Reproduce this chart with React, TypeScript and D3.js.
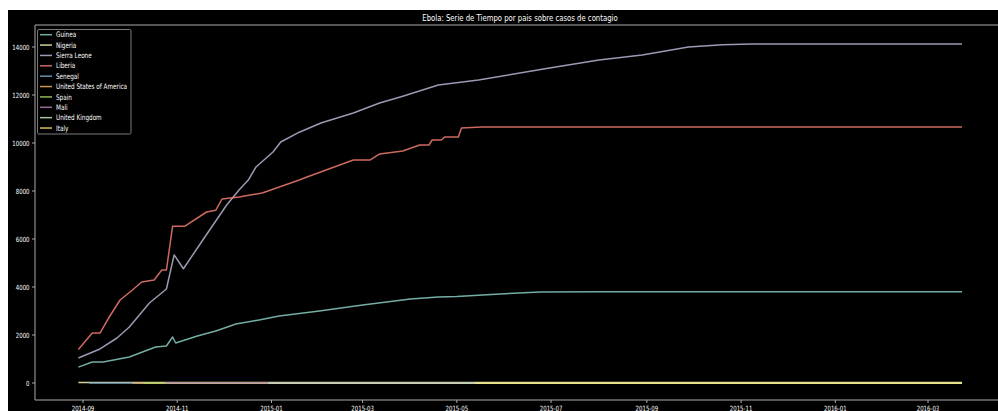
import React from "react";
import * as d3 from "d3";

type P = [string, number];

const countries = ["Guinea", "Nigeria", "Sierra Leone", "Liberia", "Senegal", "United States of America", "Spain", "Mali", "United Kingdom", "Italy"];
const colors = ["#8dd3c7", "#feffb3", "#bfbbd9", "#fa8174", "#81b1d2", "#fdb462", "#b3de69", "#bc82bd", "#ccebc4", "#ffed6f"];

const guinea: P[] = [
  ["2014-08-29", 660], ["2014-09-07", 875], ["2014-09-14", 875], ["2014-10-01", 1083], ["2014-10-18", 1500],
  ["2014-10-25", 1540], ["2014-10-29", 1917], ["2014-10-31", 1667], ["2014-11-14", 1958], ["2014-11-26", 2167],
  ["2014-12-09", 2458], ["2014-12-24", 2625], ["2015-01-06", 2792], ["2015-02-01", 3000], ["2015-03-01", 3250],
  ["2015-04-01", 3500], ["2015-04-19", 3583], ["2015-05-01", 3604], ["2015-05-29", 3708], ["2015-06-24", 3790],
  ["2015-08-01", 3804], ["2016-03-23", 3804],
];
const nigeria: P[] = [["2014-08-29", 20], ["2016-03-23", 20]];
const sierraLeone: P[] = [
  ["2014-08-29", 1040], ["2014-09-12", 1417], ["2014-09-23", 1875], ["2014-10-01", 2333], ["2014-10-14", 3333],
  ["2014-10-25", 3917], ["2014-10-30", 5338], ["2014-11-05", 4760], ["2014-11-18", 6000], ["2014-12-03", 7417],
  ["2014-12-11", 8042], ["2014-12-17", 8458], ["2014-12-22", 9000], ["2015-01-02", 9625], ["2015-01-07", 10042],
  ["2015-01-19", 10450], ["2015-02-02", 10833], ["2015-02-23", 11250], ["2015-03-12", 11667], ["2015-03-27", 11950],
  ["2015-04-19", 12417], ["2015-05-15", 12625], ["2015-06-30", 13125], ["2015-08-01", 13458], ["2015-08-29", 13667],
  ["2015-09-28", 14000], ["2015-10-20", 14089], ["2015-11-08", 14122], ["2016-03-23", 14122],
];
const liberia: P[] = [
  ["2014-08-29", 1400], ["2014-09-07", 2083], ["2014-09-12", 2083], ["2014-09-18", 2750], ["2014-09-25", 3458],
  ["2014-10-03", 3875], ["2014-10-09", 4208], ["2014-10-17", 4292], ["2014-10-22", 4708], ["2014-10-25", 4708],
  ["2014-10-29", 6535], ["2014-11-06", 6535], ["2014-11-20", 7125], ["2014-11-26", 7200], ["2014-11-30", 7667],
  ["2014-12-11", 7750], ["2014-12-26", 7917], ["2015-01-19", 8458], ["2015-01-24", 8583], ["2015-02-23", 9292],
  ["2015-03-06", 9292], ["2015-03-12", 9542], ["2015-03-27", 9667], ["2015-04-07", 9917], ["2015-04-13", 9917],
  ["2015-04-15", 10125], ["2015-04-21", 10125], ["2015-04-23", 10250], ["2015-05-02", 10250], ["2015-05-04", 10625],
  ["2015-05-17", 10666], ["2016-03-23", 10666],
];
const senegal: P[] = [["2014-09-05", 1], ["2016-03-23", 1]];
const usa: P[] = [["2014-10-03", 4], ["2016-03-23", 4]];
const spain: P[] = [["2014-10-10", 1], ["2016-03-23", 1]];
const mali: P[] = [["2014-10-24", 8], ["2016-03-23", 8]];
const uk: P[] = [["2014-12-30", 1], ["2016-03-23", 1]];
const italy: P[] = [["2015-05-13", 1], ["2016-03-23", 1]];

const seriesData = [guinea, nigeria, sierraLeone, liberia, senegal, usa, spain, mali, uk, italy];

const yTicks = [0, 2000, 4000, 6000, 8000, 10000, 12000, 14000];
const titleText = "Ebola: Serie de Tiempo por pais sobre casos de contagio";

const parse = d3.utcParse("%Y-%m-%d");
const fmt = d3.utcFormat("%Y-%m");

const SX = 0.75;

function T({ x, y, size, anchor, children, fill = "#fff" }: any) {
  return (
    <text
      transform={`translate(${x},${y}) scale(${SX},1)`}
      fontSize={size}
      fontFamily="DejaVu Sans"
      textAnchor={anchor}
      fill={fill}
    >
      {children}
    </text>
  );
}

export default function App() {
  const W = 998, H = 411;
  const left = 35, top = 25, bottom = 400, right = 1006;
  const x = d3.scaleUtc().domain([new Date(Date.UTC(2014, 8, 1)), new Date(Date.UTC(2016, 2, 1))]).range([83, 928]);
  const y = d3.scaleLinear().domain([0, 14000]).range([383, 47]);
  const xTicks = d3.utcMonth.every(2)!.range(new Date(Date.UTC(2014, 7, 15)), new Date(Date.UTC(2016, 3, 1)));
  const line = d3.line<P>().x((d) => x(parse(d[0])!)).y((d) => y(d[1]));

  return (
    <svg width={W} height={H} style={{ position: "absolute", left: 0, top: 0 }}>
      <rect x={0} y={0} width={W} height={H} fill="#fff" />
      <rect x={8} y={10} width={W - 8} height={H - 10} fill="#000" />
      <defs>
        <clipPath id="plot">
          <rect x={left} y={top} width={right - left} height={bottom - top} />
        </clipPath>
      </defs>
      <T x={520} y={21} size={9.2} anchor="middle">{titleText}</T>
      <g clipPath="url(#plot)">
        {seriesData.map((s, i) => (
          <path key={countries[i]} d={line(s) || ""} fill="none" stroke={colors[i]} strokeWidth={1.5} opacity={0.82} strokeLinejoin="round" />
        ))}
      </g>
      <line x1={left} x2={left} y1={top} y2={bottom} stroke="#aaa" strokeWidth={1} />
      <line x1={left} x2={W} y1={top} y2={top} stroke="#aaa" strokeWidth={1} />
      <line x1={left} x2={W} y1={bottom} y2={bottom} stroke="#aaa" strokeWidth={1} />
      {yTicks.map((t) => (
        <g key={t}>
          <line x1={left - 3} x2={left} y1={y(t)} y2={y(t)} stroke="#aaa" />
          <T x={left - 5.5} y={y(t) + 2.6} size={7.2} anchor="end">{t}</T>
        </g>
      ))}
      {xTicks.map((t) => (
        <g key={t.toISOString()}>
          <line x1={x(t)} x2={x(t)} y1={bottom} y2={bottom + 3} stroke="#aaa" />
          <T x={x(t)} y={410.5} size={7.2} anchor="middle">{fmt(t)}</T>
        </g>
      ))}
      <rect x={37.5} y={29.5} width={93.5} height={104.5} rx={1.5} fill="#000" stroke="#999" strokeWidth={0.8} />
      {countries.map((c, i) => {
        const ly = 34.7 + i * 10.37;
        return (
          <g key={c}>
            <line x1={40} x2={52} y1={ly} y2={ly} stroke={colors[i]} strokeWidth={1.5} opacity={0.82} />
            <T x={56} y={ly + 2.6} size={7.6} anchor="start">{c}</T>
          </g>
        );
      })}
    </svg>
  );
}
